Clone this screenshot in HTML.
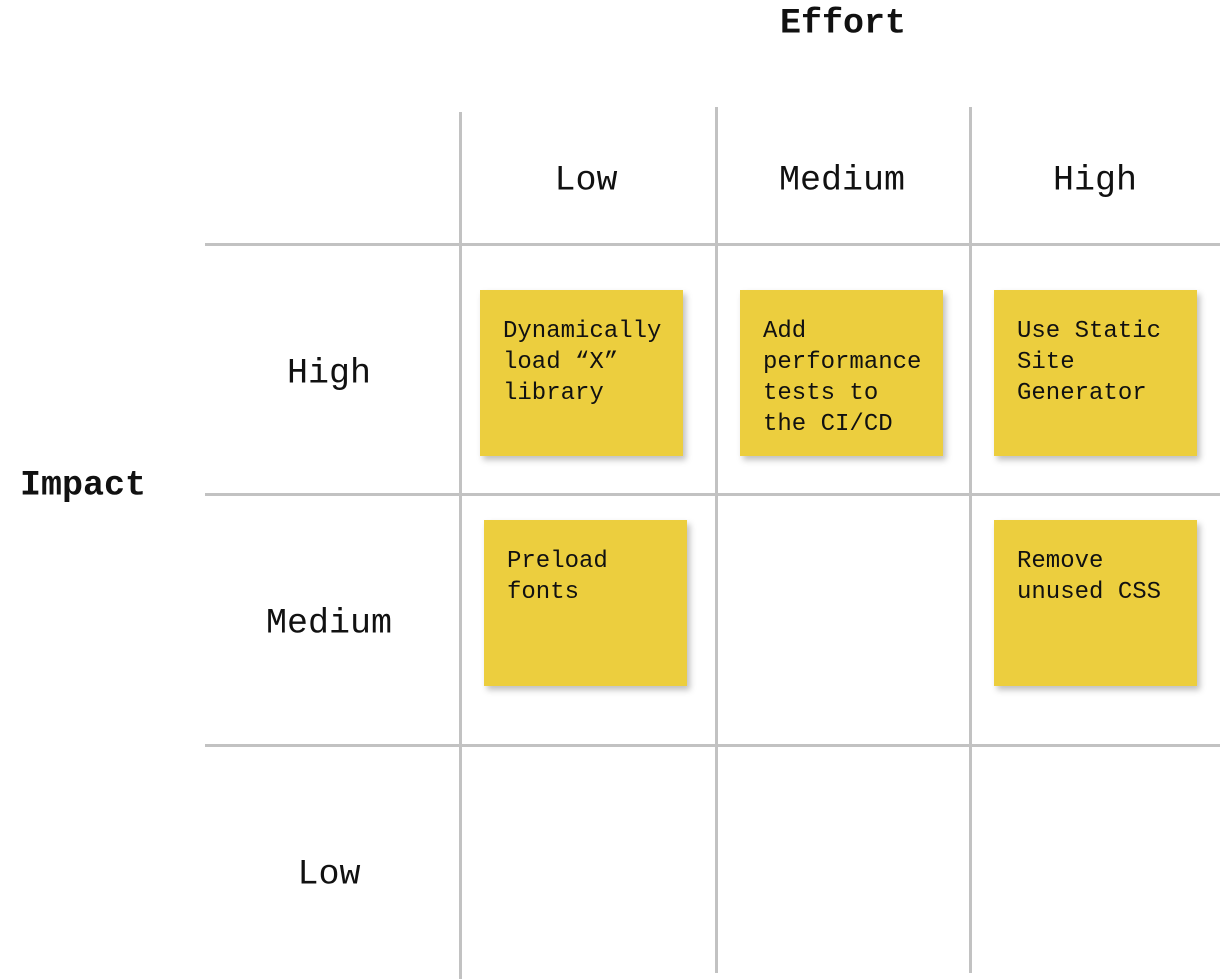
<!DOCTYPE html>
<html><head><style>
body{margin:0;width:1220px;height:979px;background:#fff;position:relative;overflow:hidden;font-family:"Liberation Mono",monospace;color:#111}
.v,.h{position:absolute;background:#c2c2c2}
.v{width:3px}.h{height:3px;left:205px;width:1015px}
.t{position:absolute;font-size:35px;transform:translate(-50%,-50%);white-space:nowrap;line-height:1}
.b{font-weight:bold}
.s{position:absolute;width:203px;height:166px;background:#ecce3e;box-shadow:3px 4px 6px rgba(0,0,0,.25);box-sizing:border-box;padding:26px 0 0 23px;font-size:24px;line-height:31px;white-space:pre}
</style></head><body>
<div class="v" style="left:459px;top:112px;height:867px"></div>
<div class="v" style="left:715px;top:107px;height:866px"></div>
<div class="v" style="left:969px;top:107px;height:866px"></div>
<div class="h" style="top:243px"></div>
<div class="h" style="top:493px"></div>
<div class="h" style="top:744px"></div>
<div class="t b" style="left:843px;top:24px">Effort</div>
<div class="t b" style="left:83px;top:486px">Impact</div>
<div class="t" style="left:586px;top:181px">Low</div>
<div class="t" style="left:842px;top:181px">Medium</div>
<div class="t" style="left:1095px;top:181px">High</div>
<div class="t" style="left:329px;top:374px">High</div>
<div class="t" style="left:329px;top:624px">Medium</div>
<div class="t" style="left:329px;top:875px">Low</div>
<div class="s" style="left:480px;top:290px">Dynamically
load “X”
library</div>
<div class="s" style="left:740px;top:290px">Add
performance
tests to
the CI/CD</div>
<div class="s" style="left:994px;top:290px">Use Static
Site
Generator</div>
<div class="s" style="left:484px;top:520px">Preload
fonts</div>
<div class="s" style="left:994px;top:520px">Remove
unused CSS</div>
</body></html>
